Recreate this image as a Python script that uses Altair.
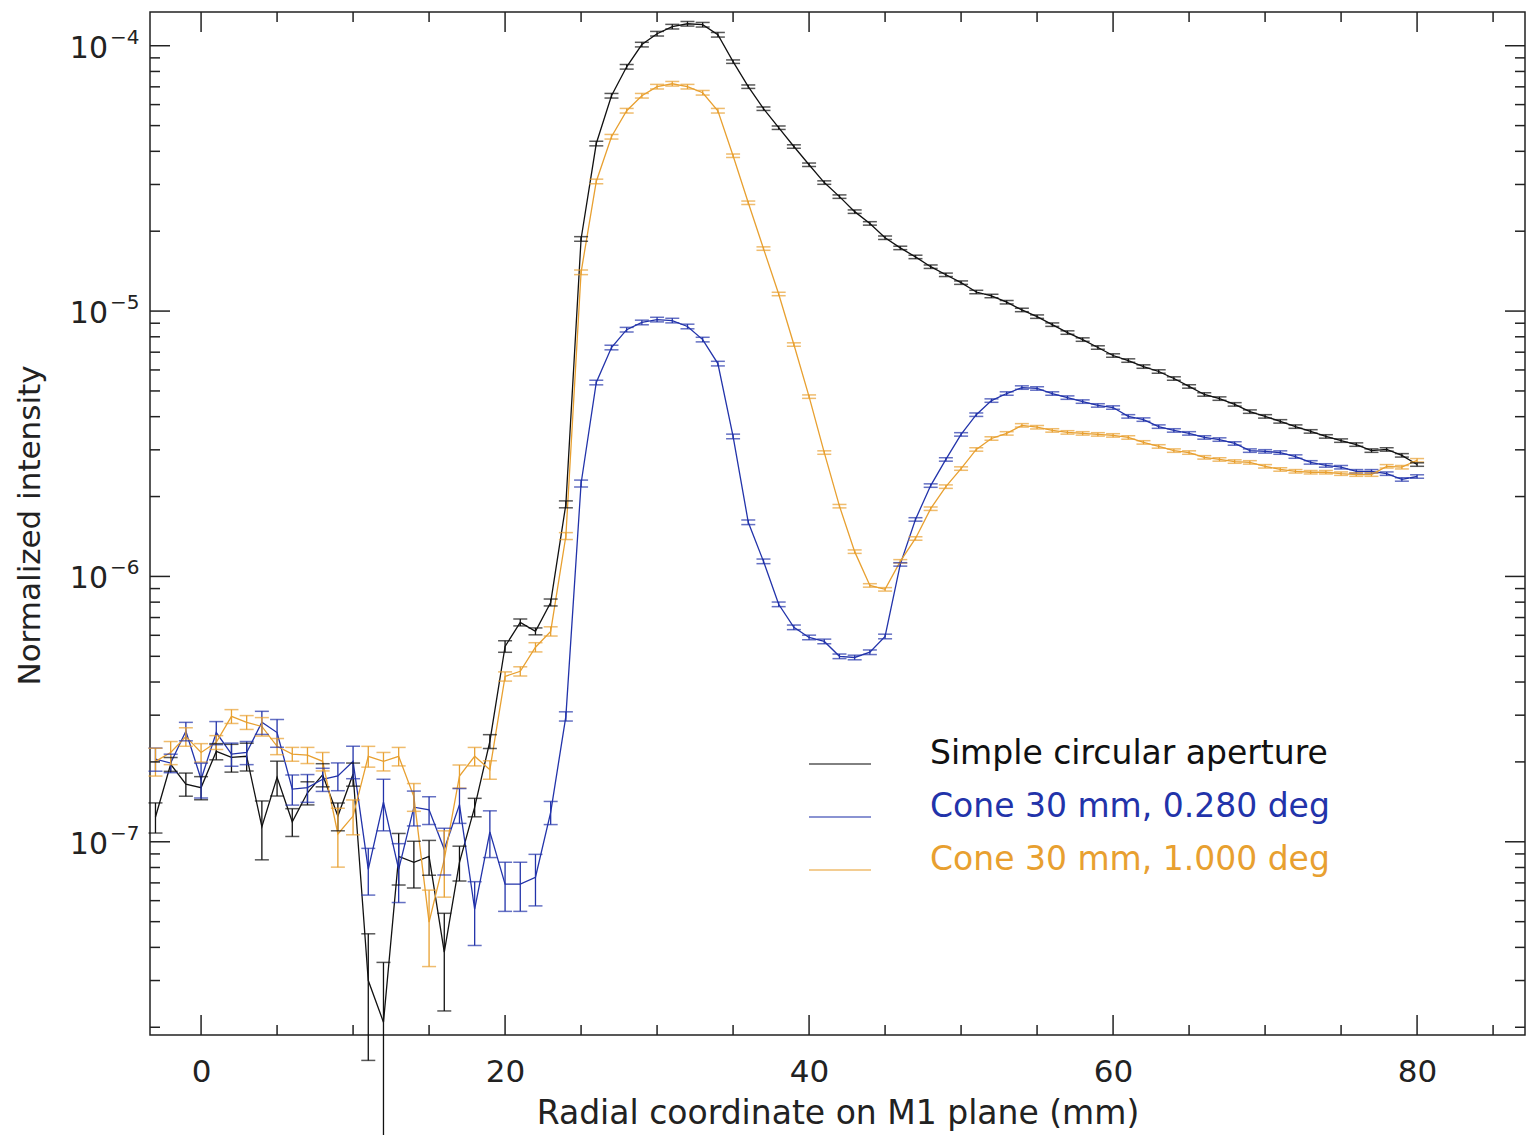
import altair as alt
import pandas as pd

# ---------------- data ----------------
x_mm = list(range(-3, 81))

series_names = ["Simple circular aperture", "Cone 30 mm, 0.280 deg", "Cone 30 mm, 1.000 deg"]
series_colors = ["#111111", "#2233aa", "#e8a030"]

black_vals = [
    1.24e-7, 1.96e-7, 1.65e-7, 1.60e-7, 2.19e-7, 2.08e-7, 2.10e-7, 1.14e-7, 1.75e-7, 1.19e-7,
    1.53e-7, 1.79e-7, 1.25e-7, 1.80e-7, 3.0e-8, 2.09e-8, 8.81e-8, 8.37e-8, 8.8e-8, 3.84e-8,
    8.37e-8, 1.35e-7, 2.39e-7, 5.45e-7, 6.71e-7, 6.21e-7, 7.98e-7, 1.87e-6, 1.87e-5, 4.28e-5,
    6.48e-5, 8.33e-5, 1.01e-4, 1.11e-4, 1.18e-4, 1.21e-4, 1.20e-4, 1.10e-4, 8.71e-5, 7.01e-5,
    5.79e-5, 4.91e-5, 4.17e-5, 3.56e-5, 3.05e-5, 2.70e-5, 2.37e-5, 2.14e-5, 1.89e-5, 1.73e-5,
    1.60e-5, 1.47e-5, 1.37e-5, 1.28e-5, 1.18e-5, 1.14e-5, 1.08e-5, 1.01e-5, 9.53e-6, 8.89e-6,
    8.30e-6, 7.81e-6, 7.29e-6, 6.80e-6, 6.51e-6, 6.18e-6, 5.92e-6, 5.57e-6, 5.20e-6, 4.85e-6,
    4.68e-6, 4.45e-6, 4.18e-6, 4.01e-6, 3.84e-6, 3.67e-6, 3.52e-6, 3.37e-6, 3.25e-6, 3.14e-6,
    2.98e-6, 3.01e-6, 2.86e-6, 2.64e-6,
]
black_err = [
    0.13, 0.06, 0.10, 0.10, 0.07, 0.12, 0.12, 0.25, 0.15, 0.12,
    0.10, 0.10, 0.12, 0.10, 0.50, 0.68, 0.22, 0.20, 0.15, 0.40,
    0.15, 0.08, 0.06, 0.05, 0.03, 0.03, 0.03, 0.03, 0.02, 0.02,
    0.02, 0.02, 0.02, 0.02, 0.02, 0.02, 0.02, 0.02, 0.015, 0.015,
    0.015, 0.015, 0.015, 0.015, 0.015, 0.015, 0.015, 0.015, 0.015, 0.015,
    0.015, 0.015, 0.015, 0.015, 0.015, 0.015, 0.015, 0.015, 0.015, 0.015,
    0.015, 0.015, 0.015, 0.015, 0.015, 0.015, 0.015, 0.015, 0.015, 0.015,
    0.015, 0.015, 0.015, 0.015, 0.015, 0.015, 0.015, 0.015, 0.015, 0.015,
    0.015, 0.015, 0.015, 0.015,
]

blue_vals = [
    2.05e-7, 1.98e-7, 2.61e-7, 1.72e-7, 2.58e-7, 2.14e-7, 2.17e-7, 2.82e-7, 2.58e-7, 1.58e-7,
    1.60e-7, 1.72e-7, 1.77e-7, 2.01e-7, 7.87e-8, 1.41e-7, 7.87e-8, 1.35e-7, 1.32e-7, 9.37e-8,
    1.38e-7, 5.57e-8, 1.09e-7, 6.92e-8, 6.92e-8, 7.35e-8, 1.29e-7, 2.97e-7, 2.24e-6, 5.38e-6,
    7.29e-6, 8.51e-6, 9.06e-6, 9.29e-6, 9.21e-6, 8.75e-6, 7.81e-6, 6.34e-6, 3.37e-6, 1.60e-6,
    1.14e-6, 7.85e-7, 6.43e-7, 5.89e-7, 5.69e-7, 5.00e-7, 4.95e-7, 5.18e-7, 5.94e-7, 1.11e-6,
    1.64e-6, 2.20e-6, 2.76e-6, 3.43e-6, 4.07e-6, 4.60e-6, 4.89e-6, 5.15e-6, 5.11e-6, 4.89e-6,
    4.72e-6, 4.56e-6, 4.41e-6, 4.33e-6, 4.01e-6, 3.90e-6, 3.67e-6, 3.55e-6, 3.46e-6, 3.34e-6,
    3.28e-6, 3.17e-6, 2.98e-6, 2.96e-6, 2.93e-6, 2.83e-6, 2.69e-6, 2.62e-6, 2.58e-6, 2.49e-6,
    2.49e-6, 2.44e-6, 2.32e-6, 2.38e-6,
]
blue_err = [
    0.10, 0.08, 0.08, 0.15, 0.10, 0.10, 0.10, 0.10, 0.12, 0.13,
    0.12, 0.10, 0.12, 0.14, 0.20, 0.22, 0.25, 0.15, 0.12, 0.20,
    0.15, 0.27, 0.20, 0.21, 0.21, 0.22, 0.10, 0.04, 0.03, 0.02,
    0.02, 0.02, 0.02, 0.02, 0.02, 0.02, 0.02, 0.02, 0.02, 0.02,
    0.02, 0.02, 0.02, 0.02, 0.02, 0.02, 0.02, 0.02, 0.02, 0.015,
    0.015, 0.015, 0.015, 0.015, 0.015, 0.015, 0.015, 0.015, 0.015, 0.015,
    0.015, 0.015, 0.015, 0.015, 0.015, 0.015, 0.015, 0.015, 0.015, 0.015,
    0.015, 0.015, 0.015, 0.015, 0.015, 0.015, 0.015, 0.015, 0.015, 0.015,
    0.015, 0.015, 0.015, 0.015,
]

orange_vals = [
    2.01e-7, 2.17e-7, 2.49e-7, 2.17e-7, 2.37e-7, 2.97e-7, 2.82e-7, 2.72e-7, 2.29e-7, 2.14e-7,
    2.12e-7, 2.01e-7, 1.07e-7, 1.25e-7, 2.10e-7, 2.01e-7, 2.10e-7, 1.48e-7, 4.98e-8, 8.59e-8,
    1.77e-7, 2.10e-7, 1.87e-7, 4.20e-7, 4.39e-7, 5.41e-7, 6.21e-7, 1.42e-6, 1.40e-5, 3.08e-5,
    4.54e-5, 5.69e-5, 6.48e-5, 7.01e-5, 7.19e-5, 7.01e-5, 6.65e-5, 5.69e-5, 3.85e-5, 2.56e-5,
    1.72e-5, 1.16e-5, 7.48e-6, 4.76e-6, 2.93e-6, 1.84e-6, 1.24e-6, 9.25e-7, 8.94e-7, 1.14e-6,
    1.39e-6, 1.80e-6, 2.18e-6, 2.55e-6, 3.01e-6, 3.31e-6, 3.46e-6, 3.71e-6, 3.65e-6, 3.55e-6,
    3.49e-6, 3.46e-6, 3.43e-6, 3.40e-6, 3.34e-6, 3.20e-6, 3.09e-6, 2.98e-6, 2.93e-6, 2.81e-6,
    2.76e-6, 2.71e-6, 2.69e-6, 2.60e-6, 2.53e-6, 2.49e-6, 2.47e-6, 2.47e-6, 2.44e-6, 2.42e-6,
    2.42e-6, 2.60e-6, 2.58e-6, 2.74e-6,
]
orange_err = [
    0.12, 0.10, 0.08, 0.08, 0.06, 0.06, 0.06, 0.08, 0.07, 0.06,
    0.07, 0.08, 0.25, 0.15, 0.09, 0.08, 0.08, 0.12, 0.32, 0.28,
    0.10, 0.08, 0.08, 0.04, 0.04, 0.04, 0.04, 0.03, 0.02, 0.02,
    0.02, 0.02, 0.02, 0.02, 0.02, 0.02, 0.02, 0.02, 0.015, 0.015,
    0.015, 0.015, 0.015, 0.015, 0.015, 0.015, 0.015, 0.015, 0.015, 0.015,
    0.015, 0.015, 0.015, 0.015, 0.015, 0.015, 0.015, 0.015, 0.015, 0.015,
    0.015, 0.015, 0.015, 0.015, 0.015, 0.015, 0.015, 0.015, 0.015, 0.015,
    0.015, 0.015, 0.015, 0.015, 0.015, 0.015, 0.015, 0.015, 0.015, 0.015,
    0.015, 0.015, 0.015, 0.015,
]

x_label_values = [0, 20, 40, 60, 80]
x_minor_ticks = [5, 10, 15, 25, 30, 35, 45, 50, 55, 65, 70, 75, 85]
y_decades = [1e-4, 1e-5, 1e-6, 1e-7]
y_exponents = ["\u22124", "\u22125", "\u22126", "\u22127"]
y_minor_ticks = [m * 10.0 ** e for e in (-8, -7, -6, -5) for m in range(2, 10)]

x_domain = [-3.36, 87.1]
y_domain = [1.87e-8, 1.34e-4]

# ---------------- tables ----------------
rows = []
for name, vals, errs in zip(series_names,
                            [black_vals, blue_vals, orange_vals],
                            [black_err, blue_err, orange_err]):
    for x, v, r in zip(x_mm, vals, errs):
        rows.append({"x": x, "v": v, "lo": v * (1 - r), "hi": v * (1 + r), "series": name})
df = pd.DataFrame(rows)

xmaj = pd.DataFrame({"t": x_label_values})
xmin = pd.DataFrame({"t": x_minor_ticks})
ymaj = pd.DataFrame({"t": y_decades, "exp": y_exponents})
ymin = pd.DataFrame({"t": [t for t in y_minor_ticks if y_domain[0] <= t <= y_domain[1]]})

# ---------------- chart ----------------
W, H = 1375, 1023
FONT = "DejaVu Sans"
INK = "#222222"

xs = alt.Scale(domain=x_domain, nice=False, zero=False)
ys = alt.Scale(type="log", domain=y_domain, nice=False)
cs = alt.Scale(domain=series_names, range=series_colors)

x_axis = alt.Axis(values=x_label_values, ticks=False, domain=False, grid=False,
                  labelFontSize=31, labelPadding=22, labelColor=INK, labelFont=FONT,
                  title="Radial coordinate on M1 plane (mm)", titleFontSize=33,
                  titleFontWeight="normal", titleColor=INK, titleFont=FONT,
                  titleY=78, titleBaseline="middle")
y_axis = alt.Axis(labels=False, ticks=False, domain=False, grid=False,
                  title="Normalized intensity", titleFontSize=31, titleFontWeight="normal",
                  titleColor=INK, titleFont=FONT, titleX=-120, titleY=513,
                  titleAlign="center", titleBaseline="middle", titleAngle=-90)

legend = alt.Legend(orient="none", legendX=658, legendY=720, title=None,
                    symbolType="stroke", symbolSize=3844, symbolStrokeWidth=1.5,
                    labelFontSize=33, labelFont=FONT, labelOffset=58, labelLimit=800,
                    labelBaseline="alphabetic", rowPadding=14, padding=0,
                    labelColor=alt.ExprRef("scale('color', datum.value)"))

X = alt.X("x:Q", scale=xs, axis=x_axis)

lines = alt.Chart(df).mark_line(strokeWidth=1.3).encode(
    x=X,
    y=alt.Y("v:Q", scale=ys, axis=y_axis),
    color=alt.Color("series:N", scale=cs, legend=legend, sort=series_names),
)
bars = alt.Chart(df).mark_rule(strokeWidth=1.3).encode(
    x=X,
    y=alt.Y("lo:Q", scale=ys, axis=y_axis),
    y2="hi:Q",
    color=alt.Color("series:N", scale=cs, legend=legend, sort=series_names),
)
caps_lo = alt.Chart(df).mark_tick(orient="horizontal", size=14, thickness=1.5).encode(
    x=X,
    y=alt.Y("lo:Q", scale=ys, axis=y_axis),
    color=alt.Color("series:N", scale=cs, legend=legend, sort=series_names),
)
caps_hi = alt.Chart(df).mark_tick(orient="horizontal", size=14, thickness=1.5).encode(
    x=X,
    y=alt.Y("hi:Q", scale=ys, axis=y_axis),
    color=alt.Color("series:N", scale=cs, legend=legend, sort=series_names),
)

def xticks(data, length):
    bottom = alt.Chart(data).mark_rule(color=INK, strokeWidth=1.5).encode(
        x=alt.X("t:Q", scale=xs, axis=x_axis), y=alt.value(H), y2=alt.value(H - length))
    top = alt.Chart(data).mark_rule(color=INK, strokeWidth=1.5).encode(
        x=alt.X("t:Q", scale=xs, axis=x_axis), y=alt.value(0), y2=alt.value(length))
    return [bottom, top]

def yticks(data, length):
    left = alt.Chart(data).mark_rule(color=INK, strokeWidth=1.5).encode(
        y=alt.Y("t:Q", scale=ys, axis=y_axis), x=alt.value(0), x2=alt.value(length))
    right = alt.Chart(data).mark_rule(color=INK, strokeWidth=1.5).encode(
        y=alt.Y("t:Q", scale=ys, axis=y_axis), x=alt.value(W), x2=alt.value(W - length))
    return [left, right]

dec_base = alt.Chart(ymaj).mark_text(align="right", baseline="middle", fontSize=30,
                                     font=FONT, color=INK, dy=3).encode(
    y=alt.Y("t:Q", scale=ys, axis=y_axis), x=alt.value(-42), text=alt.value("10"))
dec_exp = alt.Chart(ymaj).mark_text(align="left", baseline="middle", fontSize=20,
                                    font=FONT, color=INK, dy=-8).encode(
    y=alt.Y("t:Q", scale=ys, axis=y_axis), x=alt.value(-40), text="exp:N")

chart = alt.layer(
    lines, bars, caps_lo, caps_hi,
    *xticks(xmaj, 20), *xticks(xmin, 10),
    *yticks(ymaj, 20), *yticks(ymin, 10),
    dec_base, dec_exp,
).properties(
    width=W, height=H,
    padding={"left": 150, "top": 12, "right": 3, "bottom": 100},
    autosize=alt.AutoSizeParams(type="none"),
).configure(
    font=FONT, background="white"
).configure_view(
    stroke=INK, strokeWidth=1.5
)

chart.save("out.html", embed_options={"renderer": "svg", "actions": False})
